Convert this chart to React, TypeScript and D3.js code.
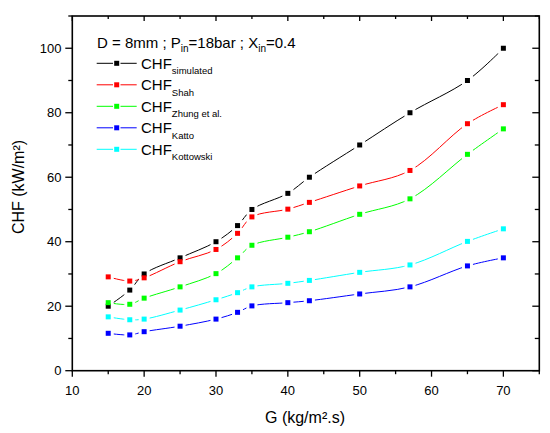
import React, { useEffect, useRef } from "react";
import * as d3 from "d3";

// mass flux G (kg/m².s)
const G = [15, 18, 20, 25, 30, 33, 35, 40, 43, 50, 57, 65, 70];

const chfSimulated = [20, 25, 30, 35, 40, 45, 50, 55, 60, 70, 80, 90, 100];
const chfShah = [29.1, 27.8, 28.8, 33.8, 37.6, 42.6, 47.7, 50.1, 52.2, 57.3, 62.1, 76.6, 82.5];
const chfZhung = [21.1, 20.6, 22.5, 26.0, 30.1, 35.0, 38.9, 41.4, 43.1, 48.5, 53.3, 67.1, 75.0];
const chfKatto = [11.6, 11.1, 12.1, 13.8, 16.0, 18.1, 20.1, 21.1, 21.7, 23.8, 26.0, 32.5, 35.0];
const chfKottowski = [16.7, 15.8, 16.0, 18.8, 22.0, 24.2, 26.0, 27.1, 28.0, 30.5, 32.8, 40.1, 44.0];

const seriesNames = ["simulated", "Shah", "Zhung et al.", "Katto", "Kottowski"];
const seriesValues = [chfSimulated, chfShah, chfZhung, chfKatto, chfKottowski];
const seriesColors = ["#000000", "#ff0000", "#00ff00", "#0000ff", "#00ffff"];

const xMajor = [10, 20, 30, 40, 50, 60, 70];
const xMinor = [15, 25, 35, 45, 55, 65, 75];
const yMajor = [0, 20, 40, 60, 80, 100];
const yMinor = [10, 30, 50, 70, 90, 110];

const W = 550,
  H = 433;
const font = "Arial, 'Liberation Sans', sans-serif";

export default function App() {
  const svgRef = useRef<SVGSVGElement>(null);

  useEffect(() => {
    const svg = d3.select(svgRef.current);
    svg.selectChildren().remove();

    const left = 72.3,
      right = 539.3,
      top = 16,
      bottom = 370.7;

    const x = d3.scaleLinear().domain([10, 75]).range([left, right]);
    const y = d3.scaleLinear().domain([0, 110]).range([bottom, top]);

    const defs = svg.append("defs");
    const ms = 5,
      gap = 11;

    // lines + markers
    seriesValues.forEach((vals, i) => {
      const pts: [number, number][] = G.map((g, j) => [x(g), y(vals[j])]);
      const mask = defs.append("mask").attr("id", `gap${i}`).attr("maskUnits", "userSpaceOnUse");
      mask.append("rect").attr("x", 0).attr("y", 0).attr("width", W).attr("height", H).attr("fill", "white");
      mask
        .selectAll("rect.g")
        .data(pts)
        .enter()
        .append("rect")
        .attr("class", "g")
        .attr("x", (d) => d[0] - gap / 2)
        .attr("y", (d) => d[1] - gap / 2)
        .attr("width", gap)
        .attr("height", gap)
        .attr("fill", "black");

      const line = d3.line().curve(d3.curveCatmullRom.alpha(0.5));
      svg
        .append("path")
        .attr("d", line(pts))
        .attr("fill", "none")
        .attr("stroke", seriesColors[i])
        .attr("stroke-width", 1)
        .attr("mask", `url(#gap${i})`);

      svg
        .append("g")
        .selectAll("rect")
        .data(pts)
        .enter()
        .append("rect")
        .attr("x", (d) => d[0] - ms / 2)
        .attr("y", (d) => d[1] - ms / 2)
        .attr("width", ms)
        .attr("height", ms)
        .attr("fill", seriesColors[i]);
    });

    // frame
    svg
      .append("rect")
      .attr("x", left)
      .attr("y", top)
      .attr("width", right - left)
      .attr("height", bottom - top)
      .attr("fill", "none")
      .attr("stroke", "#000")
      .attr("stroke-width", 1.6);

    const ticks = svg.append("g").attr("stroke", "#000").attr("stroke-width", 1.3);
    const tick = (x1: number, y1: number, x2: number, y2: number) =>
      ticks.append("line").attr("x1", x1).attr("y1", y1).attr("x2", x2).attr("y2", y2);

    xMajor.forEach((v) => {
      tick(x(v), bottom, x(v), bottom + 6);
      tick(x(v), top, x(v), top + 5);
    });
    xMinor.forEach((v) => {
      tick(x(v), bottom, x(v), bottom + 3.5);
      tick(x(v), top, x(v), top + 3);
    });
    yMajor.forEach((v) => {
      tick(left, y(v), left - 7, y(v));
      tick(right, y(v), right - 7, y(v));
    });
    yMinor.forEach((v) => {
      tick(left, y(v), left - 4, y(v));
      tick(right, y(v), right - 4.5, y(v));
    });

    // tick labels
    svg
      .append("g")
      .selectAll("text")
      .data(xMajor)
      .enter()
      .append("text")
      .attr("x", (d) => x(d))
      .attr("y", 395)
      .attr("text-anchor", "middle")
      .attr("font-family", font)
      .attr("font-size", 13)
      .text((d) => d);

    svg
      .append("g")
      .selectAll("text")
      .data(yMajor)
      .enter()
      .append("text")
      .attr("x", 61.5)
      .attr("y", (d) => y(d))
      .attr("dy", "0.36em")
      .attr("text-anchor", "end")
      .attr("font-family", font)
      .attr("font-size", 13)
      .text((d) => d);

    // axis titles
    svg
      .append("text")
      .attr("x", 305)
      .attr("y", 423)
      .attr("text-anchor", "middle")
      .attr("font-family", font)
      .attr("font-size", 16)
      .text("G (kg/m².s)");

    svg
      .append("text")
      .attr("transform", `translate(24, 187) rotate(-90)`)
      .attr("text-anchor", "middle")
      .attr("font-family", font)
      .attr("font-size", 16)
      .text("CHF (kW/m²)");

    // title with subscripts
    const title = svg
      .append("text")
      .attr("x", 97)
      .attr("y", 47.5)
      .attr("font-family", font)
      .attr("font-size", 15);
    title.append("tspan").text("D = 8mm ; P");
    title.append("tspan").attr("dy", 4).attr("font-size", 10).text("in");
    title.append("tspan").attr("dy", -4).text("=18bar ; X");
    title.append("tspan").attr("dy", 4).attr("font-size", 10).text("in");
    title.append("tspan").attr("dy", -4).text("=0.4");

    // legend
    const legend = svg.append("g");
    seriesNames.forEach((name, i) => {
      const ly = 63.3 + i * 21.5;
      const g = legend.append("g");
      g.append("line")
        .attr("x1", 96.7)
        .attr("x2", 113)
        .attr("y1", ly)
        .attr("y2", ly)
        .attr("stroke", seriesColors[i])
        .attr("stroke-width", 1);
      g.append("line")
        .attr("x1", 120.5)
        .attr("x2", 136.7)
        .attr("y1", ly)
        .attr("y2", ly)
        .attr("stroke", seriesColors[i])
        .attr("stroke-width", 1);
      g.append("rect")
        .attr("x", 116.7 - ms / 2)
        .attr("y", ly - ms / 2)
        .attr("width", ms)
        .attr("height", ms)
        .attr("fill", seriesColors[i]);
      const t = g
        .append("text")
        .attr("x", 141)
        .attr("y", ly + 5.5)
        .attr("font-family", font)
        .attr("font-size", 15);
      t.append("tspan").text("CHF");
      t.append("tspan").attr("dy", 5.5).attr("font-size", 9.5).text(name);
    });
  }, []);

  return (
    <div style={{ position: "absolute", left: 0, top: 0 }}>
      <svg ref={svgRef} width={W} height={H} style={{ display: "block", background: "#fff" }} />
    </div>
  );
}
